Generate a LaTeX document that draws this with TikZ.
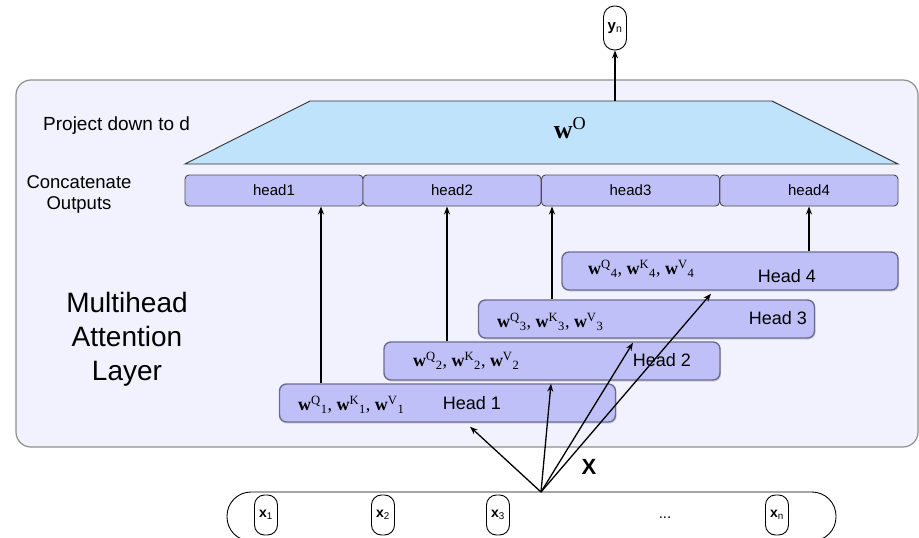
\documentclass[tikz,border=0pt]{standalone}
\usepackage[no-math]{fontspec}
\setmainfont{Liberation Sans}
\newfontfamily\wfont{Liberation Serif}
\usetikzlibrary{arrows.meta,shadows}

\definecolor{layerbg}{HTML}{F2F2FE}
\definecolor{layerline}{HTML}{8E8E8E}
\definecolor{projfill}{HTML}{BEE3FA}
\definecolor{headfill}{HTML}{C0C0F8}
\definecolor{headline}{HTML}{6C6C90}

\newcommand{\wmat}[2]{\textbf{w}\textsuperscript{#1}\textsubscript{#2}}
\newcommand{\wqkv}[1]{{\wfont\wmat{Q}{#1}, \wmat{K}{#1}, \wmat{V}{#1}}}

\begin{document}
\begin{tikzpicture}[x=1pt,y=-1pt,
    arr/.style={-{Stealth[length=8pt,width=6pt]},line width=1.3pt},
    catbox/.style={draw=black!70,line width=0.9pt,fill=headfill,rounded corners=4pt,
        minimum width=178pt,minimum height=31pt,inner sep=0pt,font=\fontsize{15}{15}\selectfont},
    headbox/.style={draw=headline,line width=1.4pt,fill=headfill,rounded corners=7pt,
        minimum width=336pt,minimum height=38pt,inner sep=0pt,
        drop shadow={shadow xshift=1pt,shadow yshift=-1.5pt,opacity=0.3}},
    wlab/.style={anchor=west,inner sep=0pt,font=\fontsize{18}{18}\selectfont},
    hlab/.style={inner sep=0pt,font=\fontsize{18}{18}\selectfont},
    side/.style={align=center,inner sep=0pt},
    tok/.style={draw,line width=0.9pt,rounded corners=10pt,minimum width=23pt,
        minimum height=40pt,inner sep=0pt,font=\fontsize{14}{14}\selectfont}]

    \useasboundingbox (0,0) rectangle (919,538);

    \draw[draw=layerline,line width=1.2pt,fill=layerbg,rounded corners=15pt] (16,80) rectangle (918,447);

    \draw[line width=0.9pt,draw=black!80,fill=projfill] (185,164) -- (310,101) -- (772,101) -- (898,164) -- cycle;
    \coordinate (ptop) at (615,101);
    \node (wo) at (570,128) {\fontsize{26}{26}\selectfont\wfont\textbf{w}\textsuperscript{O}};

    \node[draw,line width=0.9pt,rounded corners=11pt,minimum width=23pt,minimum height=44pt,inner sep=0pt,
        font=\fontsize{15}{15}\selectfont] (yn) at (615,28) {\textbf{y}\textsubscript{n}};
    \draw[arr] (ptop) -- (yn.south);

    \node[side,anchor=west,font=\fontsize{19}{19}\selectfont] (proj) at (43,126) {Project down to d};
    \node[side,font=\fontsize{18.5}{21}\selectfont] (concat) at (79,194) {Concatenate\\Outputs};
    \node[side,font=\fontsize{28}{34}\selectfont] (mha) at (127,339) {Multihead\\Attention\\Layer};

    \node[catbox] (c1) at (274,190.5) {head1};
    \node[catbox] (c2) at (452,190.5) {head2};
    \node[catbox] (c3) at (630.5,190.5) {head3};
    \node[catbox] (c4) at (809,190.5) {head4};

    \node[headbox] (h4) at (730,271) {};
    \node[wlab] (w4) at (588,269) {\wqkv{4}};
    \node[hlab] (t4) at (787,276) {Head 4};

    \node[headbox] (h3) at (646.5,319) {};
    \node[wlab] (w3) at (497,322) {\wqkv{3}};
    \node[hlab] (t3) at (778,318) {Head 3};

    \node[headbox] (h2) at (552,361) {};
    \node[wlab] (w2) at (413,361) {\wqkv{2}};
    \node[hlab] (t2) at (662,360) {Head 2};

    \node[headbox] (h1) at (447.5,403) {};
    \node[wlab] (w1) at (298,405) {\wqkv{1}};
    \node[hlab] (t1) at (472,403) {Head 1};

    \coordinate (u1) at (321,0);
    \coordinate (u2) at (447,0);
    \coordinate (u3) at (552,0);
    \coordinate (u4) at (809,0);
    \draw[arr] (h1.north -| u1) -- (c1.south -| u1);
    \draw[arr] (h2.north -| u2) -- (c2.south -| u2);
    \draw[arr] (h3.north -| u3) -- (c3.south -| u3);
    \draw[arr] (h4.north -| u4) -- (c4.south -| u4);

    \coordinate (xin) at (541,492);
    \draw[arr] (xin) -- ([xshift=22.5pt,yshift=-4pt]h1.south);
    \draw[arr] (xin) -- ([xshift=-1pt,yshift=-3pt]h2.south);
    \draw[arr] (xin) -- ([xshift=-13.5pt,yshift=-4pt]h3.south);
    \draw[arr] (xin) -- ([xshift=-19pt,yshift=-3pt]h4.south);
    \node[font=\bfseries\fontsize{22}{22}\selectfont] (xlab) at (589,467) {X};

    \begin{scope}
        \clip (0,0) rectangle (919,538);
        \draw[line width=0.9pt,rounded corners=24pt] (227,492) rectangle (836,541);
    \end{scope}

    \node[tok] (x1) at (266,515) {\textbf{x}\textsubscript{1}};
    \node[tok] (x2) at (383,515) {\textbf{x}\textsubscript{2}};
    \node[tok] (x3) at (498,515) {\textbf{x}\textsubscript{3}};
    \node[inner sep=0pt,font=\fontsize{15}{15}\selectfont] (dots) at (665,518) {...};
    \node[tok] (xn) at (777,515) {\textbf{x}\textsubscript{n}};
\end{tikzpicture}
\end{document}
